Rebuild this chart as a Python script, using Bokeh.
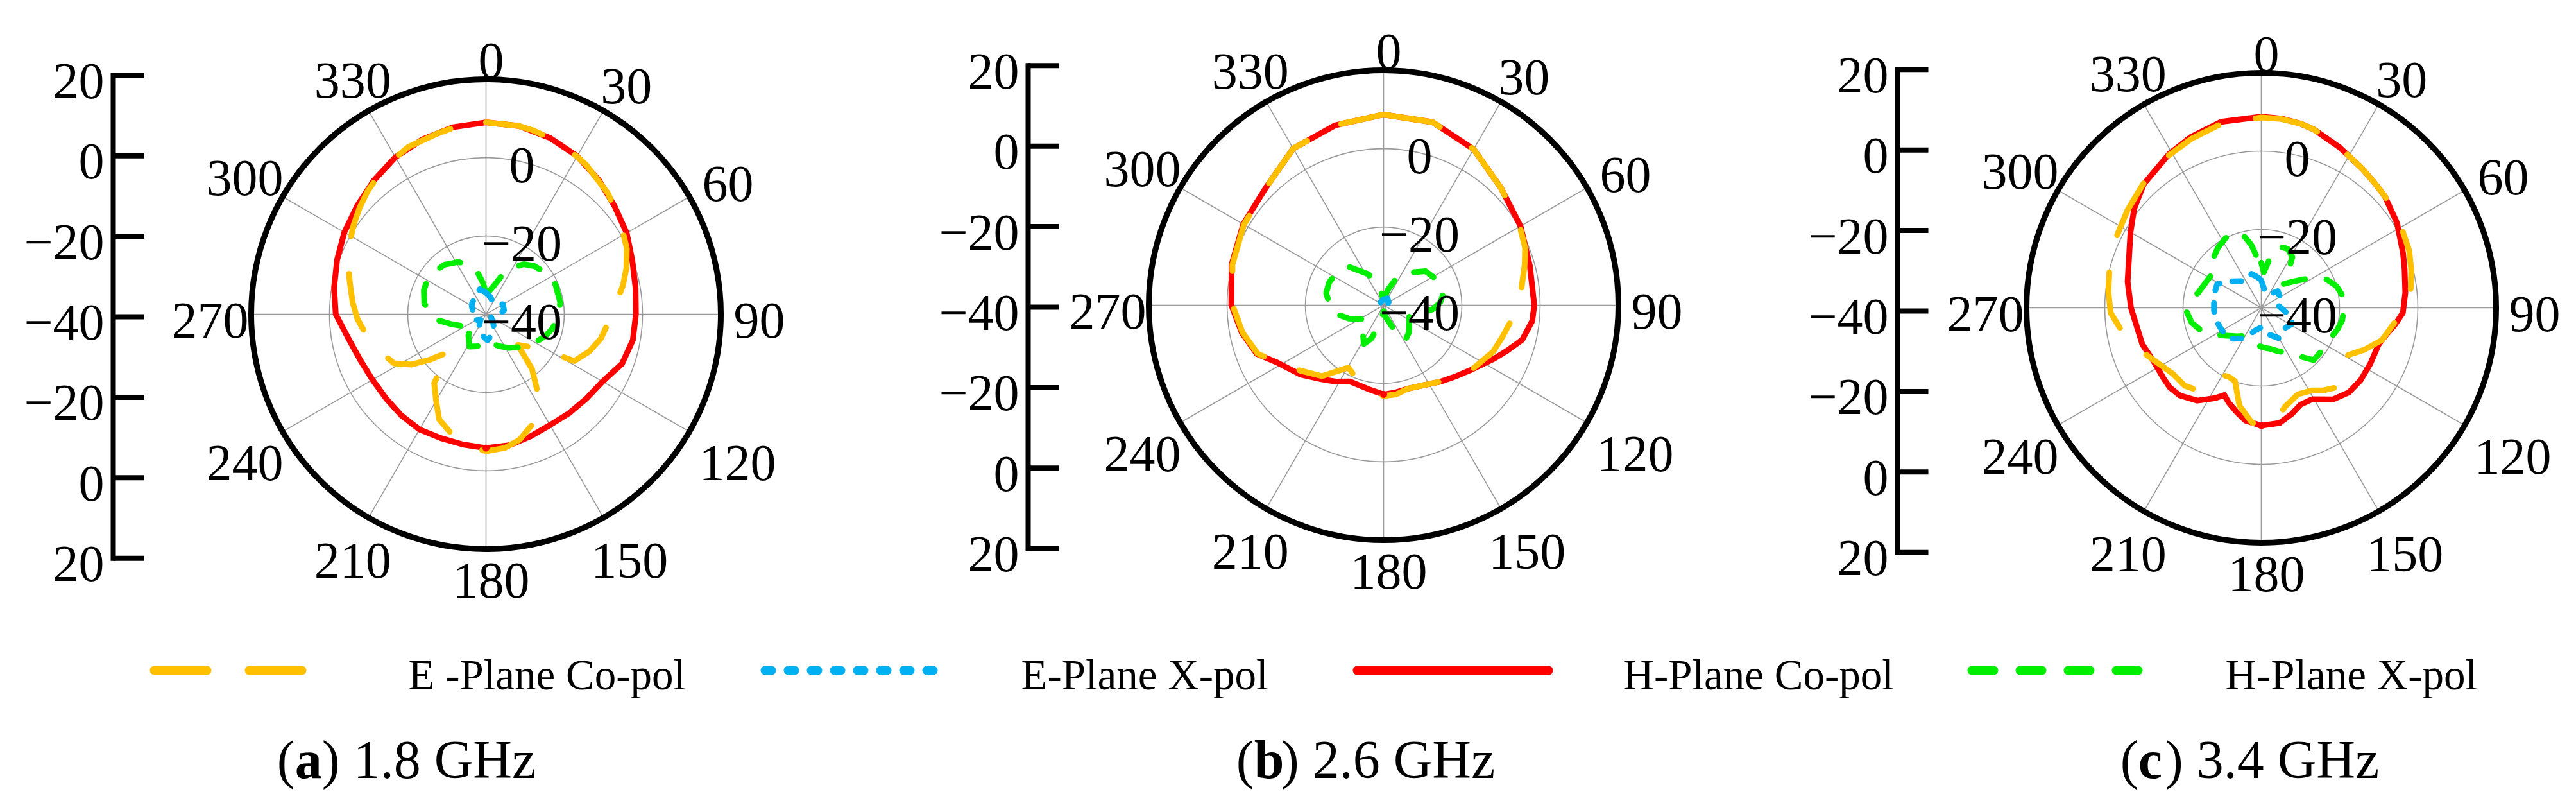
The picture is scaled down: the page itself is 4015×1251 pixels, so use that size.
import math
from bokeh.plotting import figure
from bokeh.models import Range1d
from bokeh.core.properties import value
from bokeh.embed import file_html
from bokeh.resources import INLINE

# ---------------------------------------------------------------- data
angle_ticks = [0, 30, 60, 90, 120, 150, 180, 210, 240, 270, 300, 330]
ring_levels = [0, -20]
radial_labels = [0, -20, -40]
r_min, r_max = -40, 20
scale_ticks = [20, 0, -20, -40, -20, 0, 20]
series_names = ["E -Plane Co-pol", "E-Plane X-pol", "H-Plane Co-pol", "H-Plane X-pol"]
caption_letters = ["a", "b", "c"]
caption_freqs = ["1.8 GHz", "2.6 GHz", "3.4 GHz"]

# (a) 1.8 GHz
a_hco_deg = [0, 10, 20, 30, 40, 50, 60, 70, 80, 90, 100, 110, 120, 130, 140, 150, 160, 170, 180,
             190, 200, 210, 220, 230, 240, 250, 260, 270, 280, 290, 300, 310, 320, 330, 340, 350]
a_hco_db = [9.0, 8.8, 7.9, 6.6, 4.8, 2.9, 1.5, -0.2, -1.2, -1.7, -1.9, -3.0, -5.6, -6.5, -7.0, -7.3, -6.8, -6.0, -5.8,
            -6.2, -6.3, -6.0, -6.3, -6.6, -6.5, -5.8, -4.3, -1.6, -0.6, 0.5, 1.8, 3.0, 4.6, 6.3, 7.5, 8.5]
a_eco_deg = [0, 10, 14, 20, 30, 34, 45, 55, 65, 72, 78, 90, 102, 110, 118, 120, 124, 134, 140, 147,
             157, 165, 172, 180, 190, 197, 204, 210, 217, 224, 231, 236, 242, 250, 256, 262, 268, 275, 283, 290,
             297, 304, 310, 316, 325, 335, 345, 352]
a_eco_db = [9.0, 8.8, 8.5, 7.9, 6.5, 5.9, 3.9, 1.8, -0.3, -2.3, -4.2, -7.8, -10.0, -12.0, -14.5, -19.8, -24.6, -28.7, -21.7, -15.5,
            -9.5, -6.8, -5.5, -5.0, -6.5, -8.5, -10.6, -14.5, -18.0, -26.8, -21.5, -17.0, -13.3, -11.5, -10.1, -8.6, -7.1, -5.8, -4.3, -2.5,
            -0.8, 0.8, 2.2, 3.6, 5.6, 7.1, 7.8, 8.6]
a_hxp_deg = [0, 8, 15, 22, 29, 37, 45, 56, 67, 81, 92, 102, 110, 119, 132, 146, 156, 165, 174, 183,
             195, 207, 220, 235, 245, 254, 262, 268, 280, 291, 300, 308, 320, 332, 340, 348, 354]
a_hxp_db = [-34.5, -34.0, -32.6, -29.5, -26.5, -24.0, -22.6, -21.3, -20.7, -20.8, -21.5, -22.6, -23.8, -25.4, -27.5, -29.6, -31.0, -32.0, -33.0, -33.3,
            -31.5, -30.7, -33.0, -35.7, -33.0, -30.8, -28.0, -26.0, -24.0, -23.0, -22.6, -22.8, -23.5, -24.9, -26.5, -28.7, -31.8]
a_exp_deg = [0, 15, 30, 46, 60, 78, 90, 105, 120, 135, 150, 165, 177, 193, 210, 225, 240, 255, 270, 285, 300, 310, 330, 346]
a_exp_db = [-34.5, -35.5, -36.5, -35.7, -35.0, -35.3, -36.5, -37.7, -38.5, -37.5, -36.0, -34.5, -33.3, -34.7, -36.5, -38.0,
            -37.0, -36.5, -36.5, -36.5, -35.8, -35.4, -34.8, -33.4]

# (b) 2.6 GHz
b_hco_deg = [0, 15, 30, 45, 60, 75, 90, 96, 104, 110, 116, 126, 135, 143.5, 152, 164, 172, 180, 190, 204,
             212, 220, 230, 242, 249, 259, 270, 285, 300, 315, 330, 345]
b_hco_db = [8.7, 8.4, 6.0, 2.4, 0.4, -1.3, -1.5, -1.8, -3.5, -6.3, -8.7, -12.1, -14.2, -15.7, -17.0, -17.8, -17.5, -17.2, -18.2, -18.7,
            -17.0, -15.3, -12.4, -9.0, -5.3, -3.1, -1.1, 0.2, 1.4, 2.5, 6.2, 7.6]
b_eco_deg = [0, 15, 30, 45, 60, 68, 74, 85, 97, 105, 113, 126, 135, 143.5, 152, 164, 172, 180, 187.6, 197.6,
             203, 209.5, 215, 221, 232, 242, 249, 259, 270, 285, 300, 315, 330, 345]
b_eco_db = [8.7, 8.4, 6.0, 2.4, 0.2, -1.0, -2.5, -4.8, -7.2, -8.6, -9.6, -12.1, -14.2, -15.7, -17.0, -17.8, -17.0, -16.8, -17.9, -19.4,
            -20.6, -21.7, -19.5, -16.0, -12.9, -9.0, -5.5, -3.3, -1.4, 0.0, 1.2, 2.5, 6.2, 7.6]
b_hxp_deg = [0, 15, 25, 35, 51, 65, 78, 87, 94.5, 103, 111, 125, 137, 149, 158, 170, 180, 190, 200, 207,
             216, 226, 237, 249, 260, 272, 282, 293, 305, 318, 334, 347]
b_hxp_db = [-38.5, -36.0, -32.5, -29.9, -26.2, -24.8, -24.3, -25.5, -27.3, -30.5, -33.0, -32.0, -30.5, -29.4, -33.9, -37.0, -38.5, -36.0, -31.0, -28.9,
            -31.0, -34.1, -33.5, -30.5, -27.5, -26.1, -25.0, -24.9, -25.5, -26.8, -31.2, -35.5]
b_exp_deg = [0, 30, 60, 90, 135, 180, 225, 270, 315]
b_exp_db = [-38.5, -38.0, -38.5, -39.2, -39.5, -39.4, -39.6, -39.3, -38.9]

# (c) 3.4 GHz
c_hco_deg = [0, 6, 12, 16.4, 26, 36, 42, 48, 58, 69, 75, 84, 92, 97, 102, 107.5, 117, 126, 134, 142,
             151, 158, 164, 171, 180, 188, 193.5, 199, 203, 207, 214.6, 223, 229, 234, 243, 253, 270, 281, 292, 300,
             308, 316.5, 329, 337.6, 347.8]
c_hco_db = [8.8, 8.6, 8.1, 7.5, 5.6, 3.9, 3.1, 2.5, 0.9, -1.2, -2.1, -3.0, -3.8, -5.5, -7.3, -8.6, -8.7, -8.6, -8.9, -10.3,
            -13.3, -13.3, -11.8, -10.2, -9.9, -10.9, -12.7, -14.4, -15.8, -14.1, -11.2, -9.4, -9.0, -9.2, -9.3, -8.2, -6.7, -5.2, -3.6, -1.4,
            1.2, 3.6, 5.8, 7.2, 8.6]
c_eco_deg = [0, 6, 12, 16.4, 26, 36, 42, 48, 58, 69, 76, 82.7, 92.7, 105, 112, 119, 129, 136.6, 142.6, 148.3,
             157, 166.6, 172.6, 180, 184.9, 192.6, 199.8, 205, 209.8, 211.1, 218, 224.4, 233.4, 242, 249.4, 258, 268, 276, 284.8, 296,
             306, 318, 328, 337.4, 347.8]
c_eco_db = [8.6, 8.5, 8.1, 7.5, 5.6, 3.9, 3.1, 2.5, 1.6, 0.5, -0.5, -1.5, -4.4, -8.1, -11.5, -14.9, -12.7, -12.0, -13.5, -15.2,
            -16.0, -14.0, -11.0, -9.6, -10.7, -14.4, -20.1, -20.5, -20.2, -17.2, -13.3, -12.1, -11.8, -10.0, -7.7, -4.5, -1.5, -0.7, 0.1, 1.2,
            2.3, 4.1, 5.5, 6.7, 8.1]
c_hxp_deg = [0, 4, 10, 16, 24, 31.5, 37, 43, 49, 55, 61, 67, 74, 81, 90, 99, 106, 114, 125, 135,
             145, 152, 160, 168, 176.5, 190, 200, 209, 220, 233, 241, 249, 258, 267, 275, 284, 296, 307, 315, 324,
             333, 342, 347, 351, 356]
c_hxp_db = [-28.5, -30.9, -27.0, -23.7, -23.5, -24.8, -28.5, -31.7, -30.0, -27.5, -24.0, -21.7, -20.0, -19.1, -18.8, -19.1, -19.8, -20.7, -21.0, -21.1,
            -25.3, -27.0, -28.3, -29.3, -29.8, -30.5, -31.5, -31.8, -30.5, -28.2, -25.8, -23.6, -21.8, -20.9, -21.8, -23.5, -24.5, -24.8, -22.5, -21.1,
            -20.0, -19.5, -21.5, -23.8, -27.5]
c_exp_deg = [0, 15, 30, 45, 60, 75, 90, 105, 117, 130, 150, 165, 180, 195, 210, 226, 241, 255, 267, 285,
             298, 310, 323, 335, 344, 352]
c_exp_db = [-33.0, -36.0, -36.0, -34.0, -34.5, -36.0, -35.0, -32.5, -31.1, -32.0, -31.0, -33.0, -35.0, -34.0, -31.0, -28.6,
            -28.4, -28.0, -27.9, -27.5, -27.2, -29.5, -31.5, -32.0, -31.0, -32.0]

# ---------------------------------------------------------------- style / layout
SERIF = "Liberation Serif"
ORANGE, BLUE, RED, GREEN = "#FFC000", "#00B0F0", "#FF0000", "#00EE00"
GRID = "#9a9a9a"
PX = 6.1        # pixels per dB on the polar plots
SC = 6.27       # pixels per dB on the side scales
W, H = 3999, 1235
FS = 80

p = figure(width=W, height=H, x_range=Range1d(0, W / PX), y_range=Range1d(0, H / PX),
           x_axis_type=None, y_axis_type=None, toolbar_location=None,
           output_backend="svg", min_border=0)
p.outline_line_color = None
p.background_fill_color = "white"
p.border_fill_color = "white"
p.extra_y_ranges = {"scale": Range1d(0, H / SC)}


def ux(px):          # canvas pixel (from left) -> polar data units
    return px / PX


def uy(py):          # canvas pixel (from top) -> polar data units
    return (H - py) / PX


def sy(py):          # canvas pixel (from top) -> side-scale units
    return (H - py) / SC


def polar_xy(cx, cy, deg, db):
    xs, ys = [], []
    for d, v in zip(deg, db):
        r = max(v - r_min, 0.0)
        t = math.radians(d)
        xs.append(cx + r * math.sin(t))
        ys.append(cy + r * math.cos(t))
    return xs, ys


def fmt(v):
    return str(v).replace("-", "\u2212")


def draw_panel(axis_px, cx_px, cy_px, scy_px, eco, exp, hco, hxp):
    cx, cy = ux(cx_px), uy(cy_px)
    # side dB scale (20 ... -40 ... 20)
    mid = len(scale_ticks) // 2
    sc0 = sy(scy_px)
    pos = []
    for i, lab in enumerate(scale_ticks):
        s = 1 if i < mid else (-1 if i > mid else 0)
        pos.append(sc0 + (lab - r_min) * s)
    ax = ux(axis_px)
    p.segment(x0=[ax], y0=[min(pos)], x1=[ax], y1=[max(pos)], y_range_name="scale",
              line_color="black", line_width=8, line_cap="square")
    p.segment(x0=[ax] * len(pos), y0=pos, x1=[ax + 48 / PX] * len(pos), y1=pos,
              y_range_name="scale", line_color="black", line_width=8)
    p.text(x=[ax - 14 / PX] * len(pos), y=[v - 9 / SC for v in pos],
           text=[fmt(v) for v in scale_ticks], y_range_name="scale",
           text_font=value(SERIF), text_font_size=value(f"{FS}px"),
           text_align="right", text_baseline="middle", text_color="black")

    R = r_max - r_min
    for lvl in ring_levels:
        p.circle(x=[cx], y=[cy], radius=lvl - r_min, fill_color=None, line_color=GRID, line_width=1.6)
    p.segment(x0=[cx] * len(angle_ticks), y0=[cy] * len(angle_ticks),
              x1=[cx + R * math.sin(math.radians(a)) for a in angle_ticks],
              y1=[cy + R * math.cos(math.radians(a)) for a in angle_ticks],
              line_color=GRID, line_width=1.6)
    p.circle(x=[cx], y=[cy], radius=R, fill_color=None, line_color="black", line_width=9)

    def closed(xs, ys):
        return xs + xs[:1], ys + ys[:1]

    xs, ys = closed(*polar_xy(cx, cy, *hco))
    p.line(xs, ys, line_color=RED, line_width=9, line_join="round", line_cap="round")
    xs, ys = closed(*polar_xy(cx, cy, *eco))
    p.line(xs, ys, line_color=ORANGE, line_width=9, line_dash="91 59", line_join="round", line_cap="round")
    xs, ys = closed(*polar_xy(cx, cy, *hxp))
    p.line(xs, ys, line_color=GREEN, line_width=9, line_dash="34 34", line_join="round", line_cap="round")
    xs, ys = closed(*polar_xy(cx, cy, *exp))
    p.line(xs, ys, line_color=BLUE, line_width=9, line_dash="14 20", line_join="round", line_cap="round")
    i180 = hco[0].index(180)
    dx, dy = polar_xy(cx, cy, [180], [hco[1][i180]])
    p.scatter(dx, dy, size=10, color=RED, marker="circle")

    # angle labels (centred on a point slightly right/below the pole, like the original)
    lcx, lcy = cx + 8 / PX, cy - 10 / PX
    lx, ly, lt = [], [], []
    for a in angle_ticks:
        t = math.radians(a)
        w = len(str(a)) * 0.5 * FS
        rr = (378 + 0.5 * w * abs(math.sin(t)) + 27 * abs(math.cos(t))) / PX
        lx.append(lcx + rr * math.sin(t))
        ly.append(lcy + rr * math.cos(t))
        lt.append(str(a))
    p.text(x=lx, y=ly, text=lt, text_font=value(SERIF), text_font_size=value(f"{FS}px"),
           text_align="center", text_baseline="middle", text_color="black")

    # radial labels
    p.text(x=[cx + 56 / PX] * len(radial_labels),
           y=[cy + (v - r_min) - 12 / PX for v in radial_labels],
           text=[fmt(v) for v in radial_labels],
           text_font=value(SERIF), text_font_size=value(f"{FS}px"),
           text_align="center", text_baseline="middle", text_color="black")


draw_panel(176, 757, 489, 493,
           (a_eco_deg, a_eco_db), (a_exp_deg, a_exp_db), (a_hco_deg, a_hco_db), (a_hxp_deg, a_hxp_db))
draw_panel(1602, 2156, 475, 478,
           (b_eco_deg, b_eco_db), (b_exp_deg, b_exp_db), (b_hco_deg, b_hco_db), (b_hxp_deg, b_hxp_db))
draw_panel(2957, 3524, 479, 484,
           (c_eco_deg, c_eco_db), (c_exp_deg, c_exp_db), (c_hco_deg, c_hco_db), (c_hxp_deg, c_hxp_db))

# ---------------------------------------------------------------- legend + captions
LY = uy(1044)
leg_lines = [(240, 474, ORANGE, "82 66"), (1192, 1456, BLUE, "10 26"),
             (2115, 2413, RED, "solid"), (3073, 3333, GREEN, "34 41")]
for (xa, xb, col, dash) in leg_lines:
    p.line([ux(xa), ux(xb)], [LY, LY], line_color=col, line_width=14, line_dash=dash, line_cap="round")
p.text(x=[ux(v) for v in (636, 1591, 2529, 3468)], y=[uy(1050)] * 4, text=series_names,
       text_font=value(SERIF), text_font_size=value("67px"),
       text_align="left", text_baseline="middle", text_color="black")

CF = 84
CAP_Y = uy(1183)
cap_centers = [633, 2128, 3506]
for cxp, let, fr in zip(cap_centers, caption_letters, caption_freqs):
    x0 = cxp - 4.804 * CF / 2
    p.text(x=[ux(x0)], y=[CAP_Y], text=["("], text_font=value(SERIF), text_font_size=value(f"{CF}px"),
           text_align="left", text_baseline="middle", text_color="black")
    p.text(x=[ux(x0 + 0.333 * CF)], y=[CAP_Y], text=[let], text_font=value(SERIF),
           text_font_size=value(f"{CF}px"), text_font_style="bold",
           text_align="left", text_baseline="middle", text_color="black")
    p.text(x=[ux(x0 + 0.833 * CF)], y=[CAP_Y], text=[") " + fr], text_font=value(SERIF),
           text_font_size=value(f"{CF}px"),
           text_align="left", text_baseline="middle", text_color="black")

open("out.html", "w").write(file_html(p, INLINE))
